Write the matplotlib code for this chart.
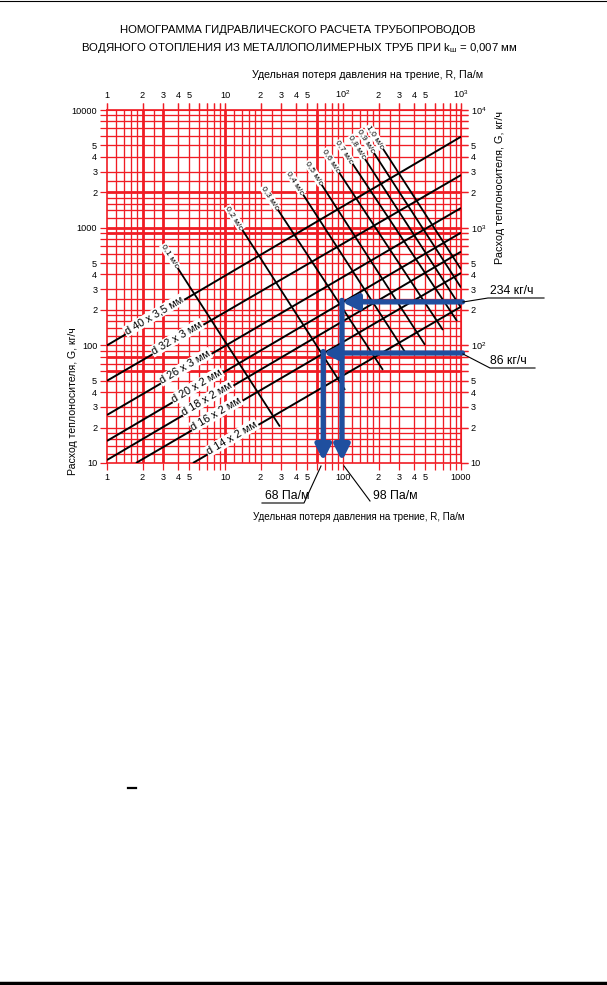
import numpy as np
import matplotlib
matplotlib.use("Agg")
import matplotlib.pyplot as plt
from matplotlib.lines import Line2D
from matplotlib.ticker import FixedLocator, FixedFormatter
import matplotlib.transforms as mtransforms

plt.rcParams['font.family'] = ['Liberation Sans', 'DejaVu Sans']
plt.rcParams['mathtext.fontset'] = 'custom'
plt.rcParams['mathtext.rm'] = 'Liberation Sans'
plt.rcParams['mathtext.it'] = 'Liberation Sans'

# ---------------- data ----------------
pipe_labels = ['d 40 x 3,5 мм', 'd 32 x 3 мм', 'd 26 x 3 мм', 'd 20 x 2 мм',
               'd 18 x 2 мм', 'd 16 x 2 мм', 'd 14 x 2 мм']
pipe_R_start = [1, 1, 1, 1, 1, 1.76, 5.35]
pipe_G_start = [100, 50, 25.6, 15.4, 10.6, 10, 10]
pipe_R_end = [1000, 1000, 1000, 1000, 1000, 1000, 1000]
pipe_G_end = [5930, 2800, 1470, 907, 625, 412, 213]
pipe_label_R = [2.55, 4.0, 4.7, 5.9, 7.2, 8.6, 11.7]

vel_labels = ['0,1 м/с', '0,2 м/с', '0,3 м/с', '0,4 м/с', '0,5 м/с',
              '0,6 м/с', '0,7 м/с', '0,8 м/с', '0,9 м/с', '1,0 м/с']
vel_R_start = [2.97, 10.5, 20.9, 34.4, 49.3, 69.0, 89.8, 115, 137, 163]
vel_G_start = [713, 1507, 2230, 2990, 3640, 4610, 5450, 6010, 6760, 7360]
vel_R_end = [29.2, 104, 218, 335, 495, 703, 925, 1000, 1000, 1000]
vel_G_end = [20.4, 41.8, 61.8, 87.9, 101, 135, 161, 209, 310, 443]

flow_G = [234, 86]
flow_R = [98, 68]
flow_G_text = ['234 кг/ч', '86 кг/ч']
flow_R_text = ['98 Па/м', '68 Па/м']

x_ticks = [1, 2, 3, 4, 5, 6, 7, 8, 9, 10, 20, 30, 40, 50, 60, 70, 80, 90,
           100, 200, 300, 400, 500, 600, 700, 800, 900, 1000]
x_bottom_labels = ['1', '2', '3', '4', '5', '', '', '', '', '10', '2', '3', '4', '5', '', '', '', '',
                   '100', '2', '3', '4', '5', '', '', '', '', '1000']
x_top_labels = ['1', '2', '3', '4', '5', '', '', '', '', '10', '2', '3', '4', '5', '', '', '', '',
                '10$^2$', '2', '3', '4', '5', '', '', '', '', '10$^3$']
y_ticks = [10, 20, 30, 40, 50, 60, 70, 80, 90, 100, 200, 300, 400, 500, 600, 700, 800, 900,
           1000, 2000, 3000, 4000, 5000, 6000, 7000, 8000, 9000, 10000]
y_left_labels = ['10', '2', '3', '4', '5', '', '', '', '', '100', '2', '3', '4', '5', '', '', '', '',
                 '1000', '2', '3', '4', '5', '', '', '', '', '10000']
y_right_labels = ['10', '2', '3', '4', '5', '', '', '', '', '10$^2$', '2', '3', '4', '5', '', '', '', '',
                  '10$^3$', '2', '3', '4', '5', '', '', '', '', '10$^4$']

grid_subs = [1, 1.2, 1.4, 1.6, 1.8, 2, 2.5, 3, 4, 5, 6, 7, 8, 9]
x_thick = [2, 3, 10, 60]
y_thick = [2000, 1000, 900, 80, 60]

# ---------------- layout ----------------
W, H = 607, 985
fig = plt.figure(figsize=(W / 100, H / 100), dpi=100)
fig.patch.set_facecolor('white')


def fx(px):
    return px / W


def fy(py):
    return 1 - py / H


RED = '#f01c24'
BLUE = '#1f4f9f'

ax = fig.add_axes([fx(107), fy(463), (461 - 107) / W, (463 - 110) / H])
ax.set_xscale('log')
ax.set_yscale('log')
ax.set_xlim(1, 1000)
ax.set_ylim(10, 10000)

for dec in [1, 10, 100]:
    for s in grid_subs:
        v = round(dec * s, 6)
        if 1 < v < 1000:
            lw = 2.0 if v in x_thick else 0.95
            ax.axvline(v, color=RED, lw=lw, zorder=1)
for dec in [10, 100, 1000]:
    for s in grid_subs:
        v = round(dec * s, 6)
        if 10 < v < 10000:
            lw = 2.0 if v in y_thick else 0.95
            ax.axhline(v, color=RED, lw=lw, zorder=1)

for sp in ax.spines.values():
    sp.set_color(RED)
    sp.set_linewidth(1.2)

ax.xaxis.set_major_locator(FixedLocator(x_ticks))
ax.xaxis.set_major_formatter(FixedFormatter(x_bottom_labels))
ax.yaxis.set_major_locator(FixedLocator(y_ticks))
ax.yaxis.set_major_formatter(FixedFormatter(y_left_labels))
ax.xaxis.set_minor_locator(FixedLocator([]))
ax.yaxis.set_minor_locator(FixedLocator([]))
ax.tick_params(axis='both', which='major', direction='out', length=5, width=0.9,
               color=RED, labelsize=6.6, pad=2,
               top=True, right=True, labeltop=False, labelright=False)

axt = ax.secondary_xaxis('top')
axt.xaxis.set_major_locator(FixedLocator(x_ticks))
axt.xaxis.set_major_formatter(FixedFormatter(x_top_labels))
axt.xaxis.set_minor_locator(FixedLocator([]))
axt.tick_params(direction='out', length=5, width=0.9, color=RED, labelsize=6.6, pad=2)
axt.spines['top'].set_color(RED)

axr = ax.secondary_yaxis('right')
axr.yaxis.set_major_locator(FixedLocator(y_ticks))
axr.yaxis.set_major_formatter(FixedFormatter(y_right_labels))
axr.yaxis.set_minor_locator(FixedLocator([]))
axr.tick_params(direction='out', length=5, width=0.9, color=RED, labelsize=6.6, pad=2)
axr.spines['right'].set_color(RED)

# pipe lines
for lab, r0, g0, r1, g1, lr in zip(pipe_labels, pipe_R_start, pipe_G_start,
                                   pipe_R_end, pipe_G_end, pipe_label_R):
    ax.plot([r0, r1], [g0, g1], color='black', lw=1.4, zorder=3, solid_capstyle='butt')
    lg = 10 ** np.interp(np.log10(lr), [np.log10(r0), np.log10(r1)], [np.log10(g0), np.log10(g1)])
    p0 = ax.transData.transform((r0, g0))
    p1 = ax.transData.transform((r1, g1))
    ang = np.degrees(np.arctan2(p1[1] - p0[1], p1[0] - p0[0]))
    tr = mtransforms.offset_copy(ax.transData, fig=fig, x=-1.5 * np.sin(np.radians(ang)),
                                 y=1.5 * np.cos(np.radians(ang)), units='points')
    ax.text(lr, lg, lab, transform=tr, rotation=ang, rotation_mode='anchor',
            ha='center', va='center', fontsize=7.9, zorder=5,
            bbox=dict(facecolor='white', edgecolor='none', pad=0.6))

# velocity lines
for lab, r0, g0, r1, g1 in zip(vel_labels, vel_R_start, vel_G_start, vel_R_end, vel_G_end):
    ax.plot([r0, r1], [g0, g1], color='black', lw=1.3, zorder=3, solid_capstyle='butt')
    p0 = ax.transData.transform((r0, g0))
    p1 = ax.transData.transform((r1, g1))
    ang = np.degrees(np.arctan2(p1[1] - p0[1], p1[0] - p0[0]))
    ax.text(r0, g0, lab, rotation=ang, rotation_mode='anchor', ha='left', va='center',
            fontsize=6.0, zorder=5,
            bbox=dict(facecolor='white', edgecolor='none', pad=0.5))

# blue arrows
astyle = '-|>,head_width=0.45,head_length=0.9'
for g, r in zip(flow_G, flow_R):
    ax.annotate('', xy=(r, g), xytext=(1030, g), annotation_clip=False,
                arrowprops=dict(arrowstyle=astyle, lw=3.8,
                                color=BLUE, shrinkA=0, shrinkB=0, mutation_scale=10), zorder=6)
    ax.annotate('', xy=(r, 10.4), xytext=(r, g * 1.03), annotation_clip=False,
                arrowprops=dict(arrowstyle=astyle, lw=3.8,
                                color=BLUE, shrinkA=0, shrinkB=0, mutation_scale=10), zorder=6)


def fline(xs, ys, lw=0.8):
    fig.add_artist(Line2D([fx(x) for x in xs], [fy(y) for y in ys],
                          transform=fig.transFigure, color='black', lw=lw))


# annotations of flow values
fig.text(fx(490), fy(291), flow_G_text[0], fontsize=8.8, ha='left', va='center')
fline([463, 488, 544], [302, 298, 298])
fig.text(fx(490), fy(361), flow_G_text[1], fontsize=8.8, ha='left', va='center')
fline([463, 490, 535], [354, 368, 368])
fig.text(fx(265), fy(496), flow_R_text[1], fontsize=8.8, ha='left', va='center')
fline([321, 304, 262], [466, 503, 503])
fig.text(fx(373), fy(496), flow_R_text[0], fontsize=8.8, ha='left', va='center')
fline([344, 370], [466, 501])

# axis titles
fig.text(fx(368), fy(75), 'Удельная потеря давления на трение, R, Па/м', fontsize=7.7,
         ha='center', va='center')
fig.text(fx(359), fy(517), 'Удельная потеря давления на трение, R, Па/м', fontsize=7.1,
         ha='center', va='center')
fig.text(fx(73), fy(401), 'Расход теплоносителя, G, кг/ч', fontsize=7.6,
         ha='center', va='center', rotation=90)
fig.text(fx(500), fy(187), 'Расход теплоносителя, G, кг/ч', fontsize=7.8,
         ha='center', va='center', rotation=90)

# title
fig.text(fx(298), fy(30), 'НОМОГРАММА ГИДРАВЛИЧЕСКОГО РАСЧЕТА ТРУБОПРОВОДОВ',
         fontsize=8.2, ha='center', va='center')
fig.text(fx(299), fy(48), 'ВОДЯНОГО ОТОПЛЕНИЯ ИЗ МЕТАЛЛОПОЛИМЕРНЫХ ТРУБ ПРИ k$_{\\mathrm{ш}}$ = 0,007 мм',
         fontsize=8.2, ha='center', va='center')

# page marks
fline([0, 607], [1, 1], lw=0.8)
fline([0, 607], [983, 983], lw=2.5)
fline([128, 136], [788, 788], lw=1.6)

fig.savefig('out.png', dpi=100, facecolor='white')
